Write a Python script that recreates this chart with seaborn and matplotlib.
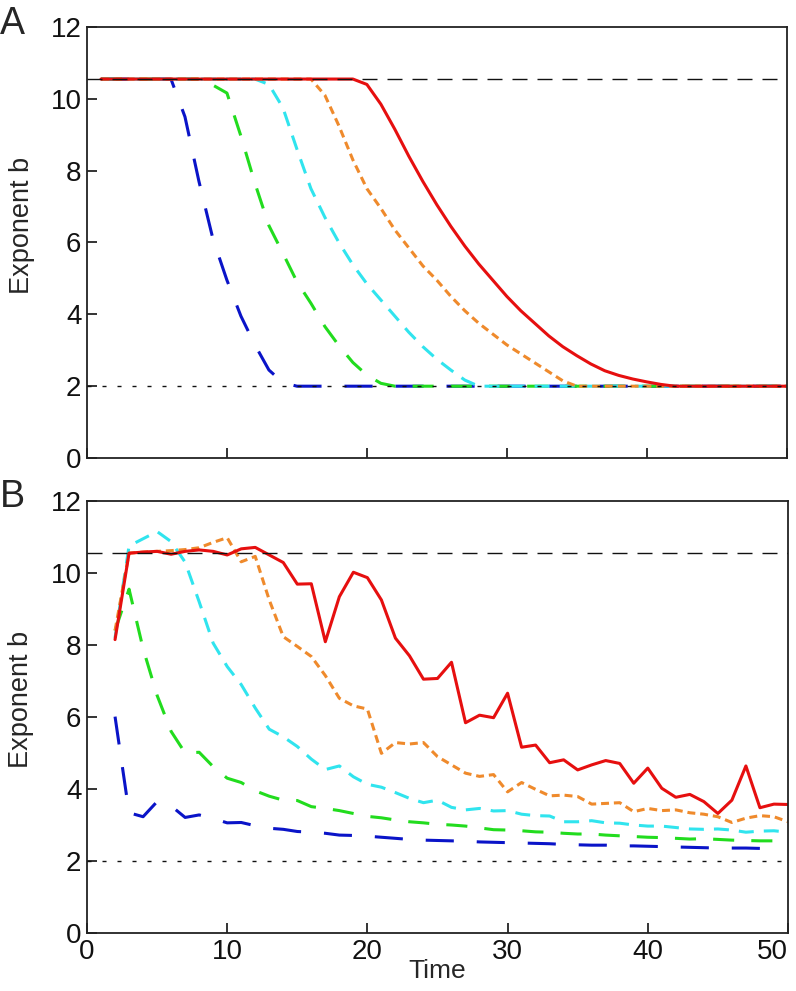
import matplotlib
matplotlib.use("Agg")
from matplotlib import pyplot as plt
import pandas as pd
import seaborn as sns

# reference levels
UPPER_B = 10.55
LOWER_B = 2.0

# panel A (vertices of the piecewise-linear curves)
blue_t_a = [1, 6, 7, 8, 9, 10, 11, 12, 13, 14, 15, 50]
blue_b_a = [10.55, 10.55, 9.5, 7.7, 6.1, 4.95, 3.95, 3.15, 2.45, 2.1, 2.0, 2.0]

green_t_a = [1, 8, 9, 10, 11, 12, 13, 14, 15, 16, 17, 18, 19, 20, 21, 22, 50]
green_b_a = [10.55, 10.55, 10.38, 10.16, 8.96, 7.65, 6.47, 5.7, 4.91, 4.31, 3.66,
             3.13, 2.66, 2.31, 2.08, 2.0, 2.0]

cyan_t_a = [1, 12, 13, 14, 15, 16, 17, 18, 19, 20, 21, 22, 23, 24, 25, 26, 27, 28, 50]
cyan_b_a = [10.55, 10.55, 10.4, 9.75, 8.6, 7.5, 6.7, 6.0, 5.38, 4.85, 4.4, 3.95,
            3.5, 3.1, 2.75, 2.45, 2.17, 2.0, 2.0]

orange_t_a = [1, 16, 17, 18, 19, 20, 21, 22, 23, 24, 25, 26, 27, 28, 29, 30, 31,
              32, 33, 34, 35, 50]
orange_b_a = [10.55, 10.55, 10.1, 9.25, 8.3, 7.5, 6.95, 6.35, 5.85, 5.35, 4.95,
              4.5, 4.1, 3.75, 3.45, 3.15, 2.9, 2.65, 2.4, 2.15, 2.0, 2.0]

red_t_a = [1, 19, 20, 21, 22, 23, 24, 25, 26, 27, 28, 29, 30, 31, 32, 33, 34, 35,
           36, 37, 38, 39, 40, 41, 42, 50]
red_b_a = [10.55, 10.55, 10.4, 9.85, 9.15, 8.4, 7.7, 7.05, 6.45, 5.9, 5.4, 4.95,
           4.5, 4.1, 3.75, 3.4, 3.1, 2.85, 2.62, 2.43, 2.3, 2.2, 2.12, 2.05, 2.0, 2.0]

# panel B (one value per time step)
time_b = list(range(2, 51))
blue_t_b = list(range(2, 49))

red_b_b = [8.15, 10.55, 10.58, 10.6, 10.52, 10.6, 10.64, 10.6, 10.5, 10.67, 10.71,
           10.5, 10.29, 9.69, 9.7, 8.09, 9.34, 10.02, 9.87, 9.25, 8.19, 7.7, 7.05,
           7.07, 7.52, 5.84, 6.05, 5.98, 6.66, 5.16, 5.22, 4.73, 4.81, 4.53, 4.67,
           4.79, 4.71, 4.16, 4.58, 4.02, 3.77, 3.85, 3.65, 3.32, 3.69, 4.64, 3.48,
           3.58, 3.57]

orange_b_b = [8.4, 10.55, 10.58, 10.6, 10.62, 10.65, 10.7, 10.85, 10.98, 10.31,
              10.46, 9.25, 8.23, 7.96, 7.68, 7.15, 6.52, 6.31, 6.22, 4.99, 5.29,
              5.25, 5.29, 4.9, 4.67, 4.44, 4.35, 4.4, 3.92, 4.18, 3.99, 3.81, 3.83,
              3.79, 3.58, 3.6, 3.62, 3.37, 3.46, 3.4, 3.42, 3.34, 3.3, 3.23, 3.07,
              3.19, 3.26, 3.23, 3.09]

cyan_b_b = [8.2, 10.75, 10.95, 11.15, 10.87, 10.3, 9.2, 8.05, 7.4, 6.9, 6.25, 5.66,
            5.45, 5.18, 4.83, 4.54, 4.64, 4.34, 4.13, 4.05, 3.9, 3.74, 3.62, 3.69,
            3.49, 3.42, 3.46, 3.39, 3.4, 3.3, 3.26, 3.25, 3.09, 3.09, 3.12, 3.06,
            3.05, 3.0, 2.97, 2.97, 2.93, 2.89, 2.88, 2.89, 2.86, 2.8, 2.83, 2.84,
            2.8]

green_b_b = [8.4, 9.55, 7.9, 6.6, 5.6, 5.0, 5.02, 4.62, 4.3, 4.18, 3.95, 3.8, 3.69,
             3.68, 3.51, 3.46, 3.4, 3.32, 3.24, 3.2, 3.14, 3.09, 3.06, 3.02, 3.0,
             2.97, 2.92, 2.87, 2.86, 2.84, 2.81, 2.8, 2.77, 2.75, 2.75, 2.72, 2.7,
             2.68, 2.66, 2.65, 2.63, 2.61, 2.62, 2.6, 2.58, 2.57, 2.56, 2.56, 2.56]

blue_b_b = [6.01, 3.34, 3.23, 3.65, 3.53, 3.21, 3.28, 3.18, 3.06, 3.07, 2.98, 2.91,
            2.88, 2.82, 2.8, 2.77, 2.72, 2.71, 2.69, 2.66, 2.63, 2.6, 2.58, 2.57,
            2.56, 2.55, 2.53, 2.52, 2.51, 2.5, 2.49, 2.48, 2.46, 2.45, 2.44, 2.44,
            2.42, 2.42, 2.41, 2.4, 2.39, 2.38, 2.37, 2.36, 2.36, 2.36, 2.35]

LW = 2.2
styles = {
    "blue": dict(color="#0a14c8", linestyle=(0, (9.2, 7.5))),
    "green": dict(color="#22dc1e", linestyle=(0, (6.9, 5.6))),
    "cyan": dict(color="#30e4ee", linestyle=(0, (4.9, 3.3))),
    "orange": dict(color="#ef8a2c", linestyle=(0, (2.6, 1.6))),
    "red": dict(color="#e60f0f", linestyle="-"),
}

sns.set_theme(style="ticks")
plt.rcParams["font.family"] = ["Liberation Sans", "DejaVu Sans"]

fig = plt.figure(figsize=(7.96, 9.91), dpi=100)
ax_a = fig.add_axes([0.1093, 0.5378, 0.879, 0.435])
ax_b = fig.add_axes([0.1093, 0.0585, 0.8806, 0.436])

panel_a = [("blue", blue_t_a, blue_b_a), ("green", green_t_a, green_b_a),
           ("cyan", cyan_t_a, cyan_b_a), ("orange", orange_t_a, orange_b_a),
           ("red", red_t_a, red_b_a)]
panel_b = [("blue", blue_t_b, blue_b_b), ("green", time_b, green_b_b),
           ("cyan", time_b, cyan_b_b), ("orange", time_b, orange_b_b),
           ("red", time_b, red_b_b)]

for ax, series in [(ax_a, panel_a), (ax_b, panel_b)]:
    for name, t, b in series:
        df = pd.DataFrame({"time": t, "b": b})
        sns.lineplot(data=df, x="time", y="b", ax=ax, linewidth=LW,
                     estimator=None, sort=False, **styles[name])
    ax.axhline(UPPER_B, color="#111111", linewidth=1.0,
               linestyle=(0, (10.8, 7.2)), zorder=5)
    ax.axhline(LOWER_B, color="#111111", linewidth=1.0,
               linestyle=(0, (2.9, 7.9)), zorder=5)

    ax.set_xlim(0, 50)
    ax.set_ylim(0, 12)
    ax.set_xticks([0, 10, 20, 30, 40, 50])
    ax.set_yticks([0, 2, 4, 6, 8, 10, 12])
    ax.tick_params(direction="in", length=7, width=1.2, labelsize=20,
                   top=False, right=False, colors="#111111", pad=4)
    for sp in ax.spines.values():
        sp.set_linewidth(1.3)
        sp.set_color("#222222")
    ax.set_ylabel("Exponent b", fontsize=19.5)
    ax.yaxis.set_label_coords(-0.075, 0.54)

ax_a.set_xticklabels([])
ax_a.set_xlabel("")
ax_b.set_xlabel("Time", fontsize=19, labelpad=-4)
# the last tick label sits flush against the right edge, as in the original
ax_b.get_xticklabels()[-1].set_horizontalalignment("right")

fig.text(0.0, 0.966, "A", fontsize=27)
fig.text(0.0, 0.488, "B", fontsize=27)

plt.savefig("out.png", dpi=100)
